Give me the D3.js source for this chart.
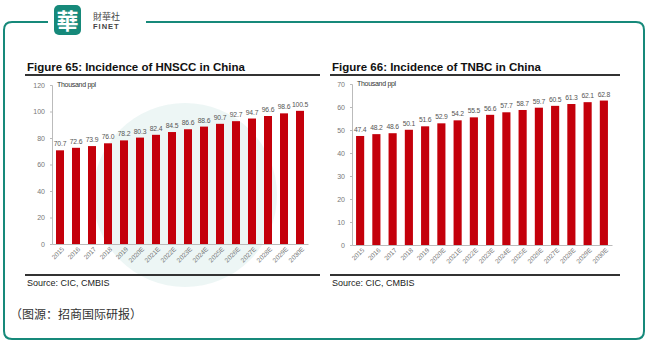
<!DOCTYPE html>
<html>
<head>
<meta charset="utf-8">
<script src="https://cdn.jsdelivr.net/npm/d3@7"></script>
<style>
  body { margin: 0; background: #fff; }
  svg text { font-family: "Liberation Sans", Arial, sans-serif; }
</style>
</head>
<body>
<div id="chartContainer"></div>
<script>
var years = ["2015", "2016", "2017", "2018", "2019", "2020E", "2021E", "2022E",
  "2023E", "2024E", "2025E", "2026E", "2027E", "2028E", "2029E", "2030E"];
var hnscc = [70.7, 72.6, 73.9, 76.0, 78.2, 80.3, 82.4, 84.5, 86.6, 88.6, 90.7, 92.7, 94.7, 96.6, 98.6, 100.5];
var tnbc = [47.4, 48.2, 48.6, 50.1, 51.6, 52.9, 54.2, 55.5, 56.6, 57.7, 58.7, 59.7, 60.5, 61.3, 62.1, 62.8];
var hnsccTicks = [0, 20, 40, 60, 80, 100, 120];
var tnbcTicks = [0, 10, 20, 30, 40, 50, 60, 70];

var W = 649, H = 343;
var svg = d3.select("#chartContainer").append("svg")
  .attr("width", W).attr("height", H);

var teal = "#16897a";

// outer frame, top edge broken where the logo sits
svg.append("path")
  .attr("d", "M48,22 H12 Q4,22 4,30 V331 Q4,339 12,339 H636 Q644,339 644,331 V30 Q644,22 636,22 H146")
  .attr("fill", "none").attr("stroke", teal).attr("stroke-width", 2);

// logo
var logo = svg.append("g");
logo.append("rect").attr("x", 54).attr("y", 5).attr("width", 27).attr("height", 30)
  .attr("rx", 5).attr("fill", teal);
logo.append("text").attr("x", 67.5).attr("y", 29).attr("text-anchor", "middle")
  .style("font-family", "'Noto Sans CJK TC'").style("font-size", "22px")
  .style("font-weight", "bold").attr("fill", "#fff").text("華");
logo.append("text").attr("x", 93).attr("y", 20)
  .style("font-family", "'Noto Sans CJK TC'").style("font-size", "9px")
  .attr("fill", "#444").text("財華社");
logo.append("text").attr("x", 93).attr("y", 29)
  .style("font-size", "7.5px").style("font-weight", "bold").style("letter-spacing", "1px")
  .attr("fill", "#444").text("FINET");

// faint watermark disc behind the left chart
svg.append("circle").attr("cx", 185).attr("cy", 195).attr("r", 92)
  .attr("fill", teal).attr("opacity", 0.08);

function drawChart(opt) {
  var g = svg.append("g");

  g.append("text").attr("x", opt.left + 2).attr("y", 71)
    .style("font-size", "11.5px").style("font-weight", "bold").attr("fill", "#111")
    .text(opt.title);
  g.append("line").attr("x1", opt.left).attr("x2", opt.right).attr("y1", 75).attr("y2", 75)
    .attr("stroke", "#333").attr("stroke-width", 2);

  var x = d3.scaleBand().domain(years).range([opt.x0, opt.x1]).paddingInner(0.5).paddingOuter(0.25);
  var y = d3.scaleLinear().domain([0, opt.max]).range([opt.y0, opt.y1]);

  var yAxis = g.append("g").attr("transform", "translate(" + opt.x0 + ",0)")
    .call(d3.axisLeft(y).tickValues(opt.ticks).tickSize(2).tickPadding(5));
  yAxis.selectAll("text").style("font-size", "7px").attr("fill", "#777");
  yAxis.selectAll("line, path").attr("stroke", "#bbb");

  var xAxis = g.append("g").attr("transform", "translate(0," + opt.y0 + ")")
    .call(d3.axisBottom(x).tickSize(0));
  xAxis.select("path").attr("stroke", "#bbb");
  xAxis.selectAll("text")
    .style("font-size", "6.5px").attr("fill", "#777")
    .attr("text-anchor", "end")
    .attr("transform", "translate(3,4) rotate(-45)")
    .attr("dy", "0.35em").attr("y", 0).attr("x", 0);

  g.append("text").attr("x", opt.x0 + 5).attr("y", opt.y1 + 2)
    .style("font-size", "7px").style("letter-spacing", "-0.3px").attr("fill", "#333")
    .text("Thousand ppl");

  g.selectAll("rect.bar").data(opt.values).enter().append("rect")
    .attr("class", "bar")
    .attr("x", function (d, i) { return x(years[i]); })
    .attr("width", x.bandwidth())
    .attr("y", function (d) { return y(d); })
    .attr("height", function (d) { return opt.y0 - y(d); })
    .attr("fill", "#c4000b");

  g.selectAll("text.val").data(opt.values).enter().append("text")
    .attr("class", "val")
    .attr("x", function (d, i) { return x(years[i]) + x.bandwidth() / 2; })
    .attr("y", function (d) { return y(d) - 4; })
    .attr("text-anchor", "middle")
    .style("font-size", "6.8px").style("letter-spacing", "-0.2px").attr("fill", "#555")
    .text(function (d) { return d.toFixed(1); });

  g.append("line").attr("x1", opt.left).attr("x2", opt.right).attr("y1", 275).attr("y2", 275)
    .attr("stroke", "#333").attr("stroke-width", 2);
  g.append("text").attr("x", opt.left + 2).attr("y", 286)
    .style("font-size", "9px").attr("fill", "#222").text("Source: CIC, CMBIS");
}

drawChart({ title: "Figure 65: Incidence of HNSCC in China", values: hnscc, ticks: hnsccTicks, max: 120,
  left: 25, right: 320, x0: 52, x1: 308, y0: 244, y1: 85 });
drawChart({ title: "Figure 66: Incidence of TNBC in China", values: tnbc, ticks: tnbcTicks, max: 70,
  left: 330, right: 620, x0: 352, x1: 612, y0: 245, y1: 84 });

svg.append("text").attr("x", 10).attr("y", 319)
  .style("font-family", "'Noto Sans CJK SC'").style("font-size", "12px").attr("fill", "#333")
  .text("（图源：招商国际研报）");
</script>
</body>
</html>
